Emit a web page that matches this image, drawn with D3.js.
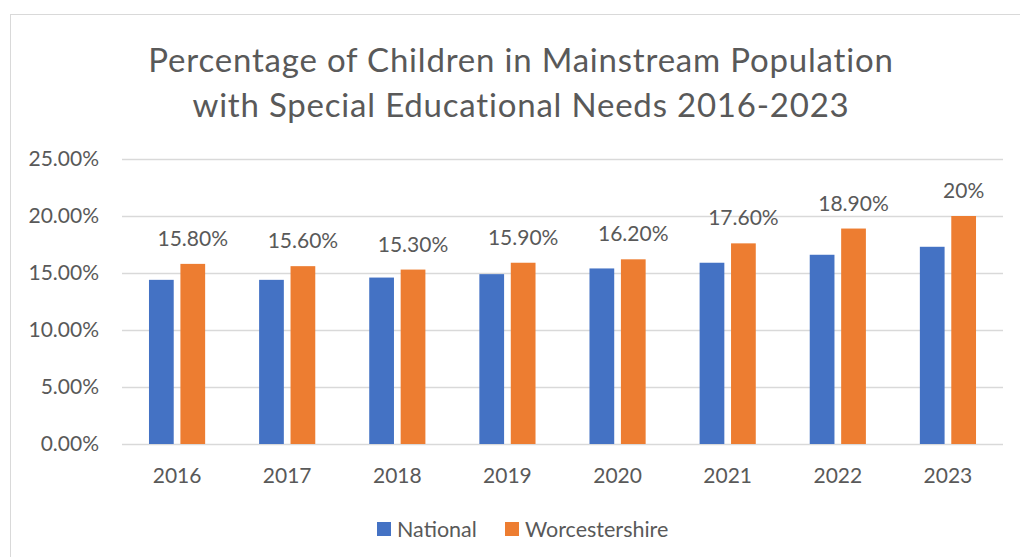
<!DOCTYPE html>
<html>
<head>
<meta charset="utf-8">
<script src="https://cdn.jsdelivr.net/npm/d3@7"></script>
<style>
  html, body { margin: 0; padding: 0; background: #fff; }
  svg { display: block; font-family: Lato, "Open Sans", sans-serif; }
</style>
</head>
<body>
<svg id="chart" width="1020" height="557"></svg>
<script>
const years = ["2016", "2017", "2018", "2019", "2020", "2021", "2022", "2023"];
const seriesNames = ["National", "Worcestershire"];
const national = [14.4, 14.4, 14.6, 14.9, 15.4, 15.9, 16.6, 17.3];
const worcestershire = [15.8, 15.6, 15.3, 15.9, 16.2, 17.6, 18.9, 20.0];
const worcestershireLabels = ["15.80%", "15.60%", "15.30%", "15.90%", "16.20%", "17.60%", "18.90%", "20%"];
const yTicks = [0, 5, 10, 15, 20, 25];
const titleLines = ["Percentage of Children in Mainstream Population", "with Special Educational Needs 2016-2023"];
const colors = ["#4472C4", "#ED7D31"];

const svg = d3.select("#chart");
const textColor = "#595959";

// chart border
svg.append("rect")
  .attr("x", 10.5).attr("y", 14.5)
  .attr("width", 1040).attr("height", 600)
  .attr("fill", "#fff").attr("stroke", "#d9d9d9").attr("stroke-width", 1);

// title
svg.append("text")
  .attr("x", 521).attr("text-anchor", "middle")
  .attr("fill", textColor).attr("font-size", 33).attr("letter-spacing", 0.8)
  .selectAll("tspan").data(titleLines).join("tspan")
  .attr("x", 521).attr("y", (d, i) => 72 + i * 45)
  .text(d => d);

const y = d3.scaleLinear().domain([0, 25]).range([444, 159]);
const x = d3.scaleBand().domain(years).range([122, 1003]).paddingInner(0.49).paddingOuter(0.245);
const xInner = d3.scaleBand().domain(seriesNames).range([0, x.bandwidth()]).paddingInner(0.213);

// gridlines
const yAxis = d3.axisLeft(y).tickValues(yTicks).tickSize(-(1003 - 122)).tickFormat(d => d3.format(".2f")(d) + "%");
const gY = svg.append("g").attr("transform", "translate(122,0)").call(yAxis);
gY.select(".domain").remove();
gY.selectAll(".tick line").attr("stroke", "#d9d9d9").attr("stroke-width", 1.5);
gY.selectAll(".tick text").attr("x", -23).attr("fill", textColor)
  .attr("font-size", 21).attr("font-family", "Lato, sans-serif");

// x axis labels
const xAxis = d3.axisBottom(x).tickSize(0).tickPadding(0);
const gX = svg.append("g").attr("transform", "translate(0,444)").call(xAxis);
gX.select(".domain").remove();
gX.selectAll(".tick text").attr("y", 24).attr("fill", textColor)
  .attr("font-size", 21).attr("font-family", "Lato, sans-serif");

// bars
const rows = years.map((yr, i) => ({ year: yr, values: [
  { s: seriesNames[0], v: national[i] },
  { s: seriesNames[1], v: worcestershire[i], label: worcestershireLabels[i] }
]}));

const groups = svg.append("g").selectAll("g").data(rows).join("g")
  .attr("transform", d => `translate(${x(d.year)},0)`);

groups.selectAll("rect").data(d => d.values).join("rect")
  .attr("x", d => xInner(d.s))
  .attr("width", xInner.bandwidth())
  .attr("y", d => y(d.v))
  .attr("height", d => y(0) - y(d.v))
  .attr("fill", (d, i) => colors[i]);

groups.selectAll("text.lbl").data(d => d.values.filter(v => v.label)).join("text")
  .attr("class", "lbl")
  .attr("x", d => xInner(d.s) + xInner.bandwidth() / 2)
  .attr("y", d => y(d.v) - 18)
  .attr("text-anchor", "middle")
  .attr("fill", textColor).attr("font-size", 21)
  .text(d => d.label);

// legend
const legendItems = [{ name: seriesNames[0], x: 377, c: colors[0] }, { name: seriesNames[1], x: 505, c: colors[1] }];
const lg = svg.append("g").selectAll("g").data(legendItems).join("g")
  .attr("transform", d => `translate(${d.x},522)`);
lg.append("rect").attr("width", 14).attr("height", 14).attr("fill", d => d.c);
lg.append("text").attr("x", 20).attr("y", 14.5).attr("fill", textColor)
  .attr("font-size", 21.5).text(d => d.name);
</script>
</body>
</html>
